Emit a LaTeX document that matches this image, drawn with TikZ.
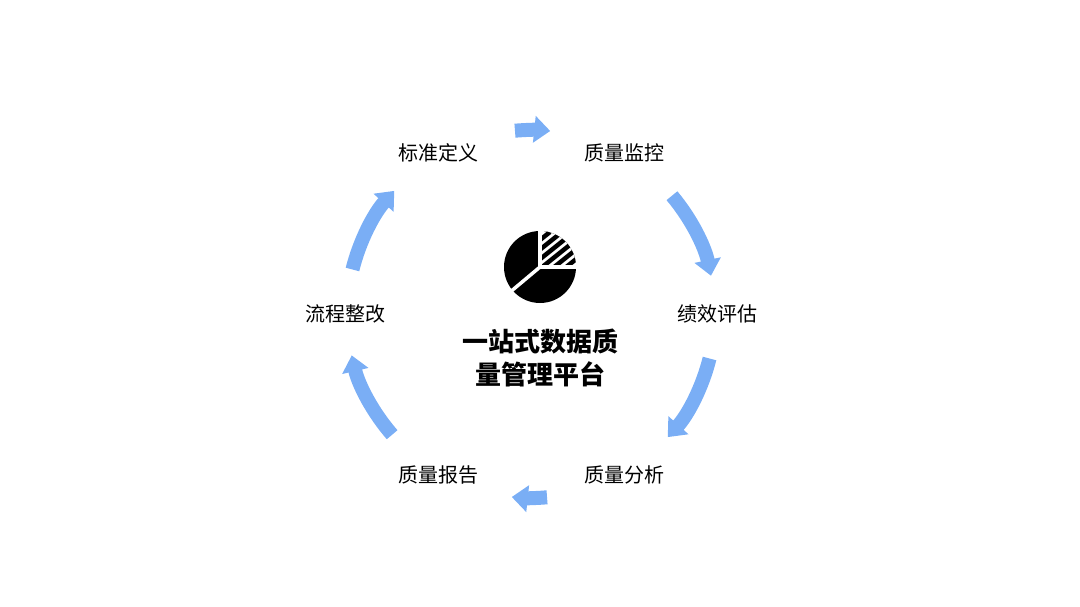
\documentclass[tikz,border=0pt]{standalone}
\usepackage{fontspec}
\setmainfont{Noto Sans CJK SC}
\usetikzlibrary{arrows.meta,calc}
\definecolor{ab}{HTML}{7AAEF5}
\begin{document}
\begin{tikzpicture}[x=1pt,y=-1pt,
  lab/.style={font=\fontsize{20}{20}\selectfont,inner sep=0pt},
  arc/.style={ab,line width=14pt,-{Triangle[length=16pt,width=26pt]}}]
\useasboundingbox (0,0) rectangle (1080,607);
\coordinate (c) at (531,314);
\node[lab] (n1) at (438,153) {标准定义};
\node[lab] (n2) at (624,153) {质量监控};
\node[lab] (n3) at (717,314) {绩效评估};
\node[lab] (n4) at (624,475) {质量分析};
\node[lab] (n5) at (438,475) {质量报告};
\node[lab] (n6) at (345,314) {流程整改};
\draw[arc] ($(c)+(-95:184)$) arc[start angle=-95,end angle=-84,radius=184];
\draw[arc] ($(c)+(-40:184)$) arc[start angle=-40,end angle=-12,radius=184];
\draw[arc] ($(c)+(14:184)$) arc[start angle=14,end angle=42,radius=184];
\draw[arc] ($(c)+(85:184)$) arc[start angle=85,end angle=96,radius=184];
\draw[arc] ($(c)+(139:184)$) arc[start angle=139,end angle=167,radius=184];
\draw[arc] ($(c)+(194:184)$) arc[start angle=194,end angle=222,radius=184];
\coordinate (p) at (540,267);
\fill[black] (p) circle (36);
\begin{scope}
\clip (p) -- ++(0,-36) arc[start angle=-90,end angle=0,radius=36] -- cycle;
\fill[white] (p) circle (37);
\foreach \k in {-40,-28,...,60} {
  \draw[black,line width=4.5pt] ($(p)+(\k,5)$) -- ++(50,-40);
}
\end{scope}
\draw[white,line width=3.5pt] (p) -- ++(0,-38);
\draw[white,line width=3.5pt] (p) -- ++(38,0);
\draw[white,line width=3.5pt] (p) -- ++(140:38);
\node[font=\bfseries\fontsize{26}{33}\selectfont,align=center] (t) at (540,358) {一站式数据质\\量管理平台};
\end{tikzpicture}
\end{document}
